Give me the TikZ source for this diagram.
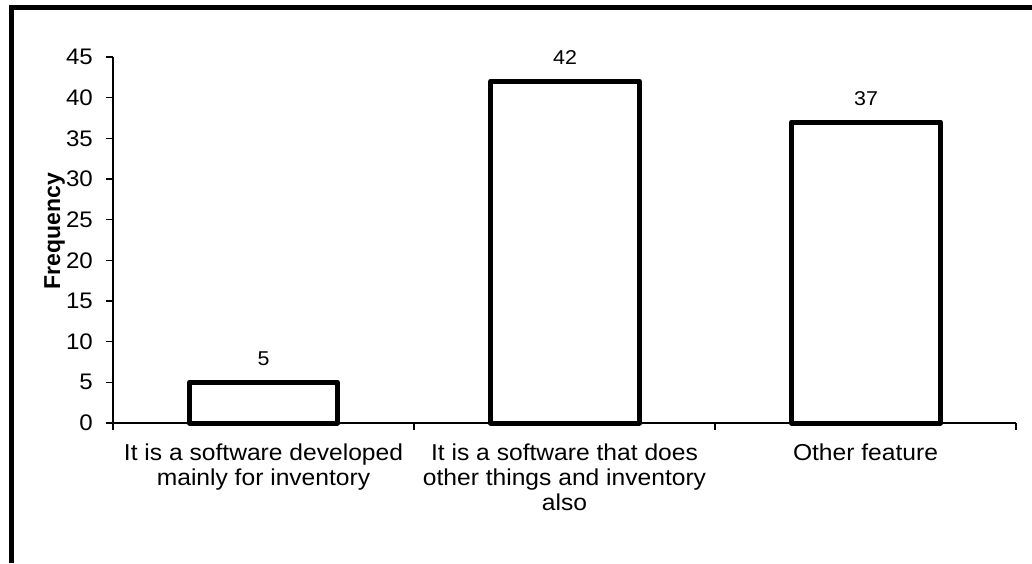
\documentclass[tikz,border=0pt]{standalone}
\usepackage{fontspec}
\setmainfont{Liberation Sans}
\newfontfamily\widefont[FakeStretch=1.07]{Liberation Sans}
\begin{document}
\begin{tikzpicture}[x=1pt,y=1pt,
  bar/.style={draw=black, line width=5pt, line join=round, fill=white},
  axisline/.style={line width=1.5pt},
  ticklab/.style={anchor=east, inner sep=0pt, font=\widefont\fontsize{22.5}{25}\selectfont},
  datalab/.style={anchor=base, inner sep=0pt, font=\widefont\fontsize{20}{22}\selectfont},
  catlab/.style={anchor=base, inner sep=0pt, align=center, font=\widefont\fontsize{23}{25}\selectfont},
  frame/.style={line width=4.5pt}]
\useasboundingbox (0,0) rectangle (1032,563);
% frame
\draw[frame] (11.5,0) -- (11.5,555.5) -- (1032,555.5);
% axes
\coordinate (O) at (113,140);
\coordinate (ytop) at (113,506);
\coordinate (xend) at (1016,140);
\draw[axisline] (O) -- (ytop);
\draw[axisline] (O) -- (xend);
\foreach \i in {0,...,9} {
  \pgfmathsetmacro{\yy}{140+\i*40.667}
  \pgfmathtruncatemacro{\lab}{\i*5}
  \draw[axisline] (106,\yy) -- (113,\yy);
  \node[ticklab] (t\i) at (93,\yy) {\lab};
}
\foreach \xx in {113,414,715,1016} {
  \draw[axisline] (\xx,140) -- (\xx,133);
}
% bars
\draw[bar] (189.5,140) rectangle (337.5,180.7);
\draw[bar] (490.5,140) rectangle (639.5,481.6);
\draw[bar] (791.5,140) rectangle (940.5,440.9);
% data labels
\node[datalab] (v1) at (263.5,197.2) {5};
\node[datalab] (v2) at (565,498.1) {42};
\node[datalab] (v3) at (866,457.4) {37};
% category labels (anchor base = baseline of last line)
\node[catlab] (c1) at (263.5,78) {It is a software developed\\mainly for inventory};
\node[catlab] (c2) at (564.5,53) {It is a software that does\\other things and inventory\\also};
\node[catlab] (c3) at (865.5,103) {Other feature};
% axis title
\node[rotate=90, anchor=base, inner sep=0pt, font=\fontsize{23}{25}\selectfont\bfseries] (ytitle) at (60,332) {Frequency};
\end{tikzpicture}
\end{document}
